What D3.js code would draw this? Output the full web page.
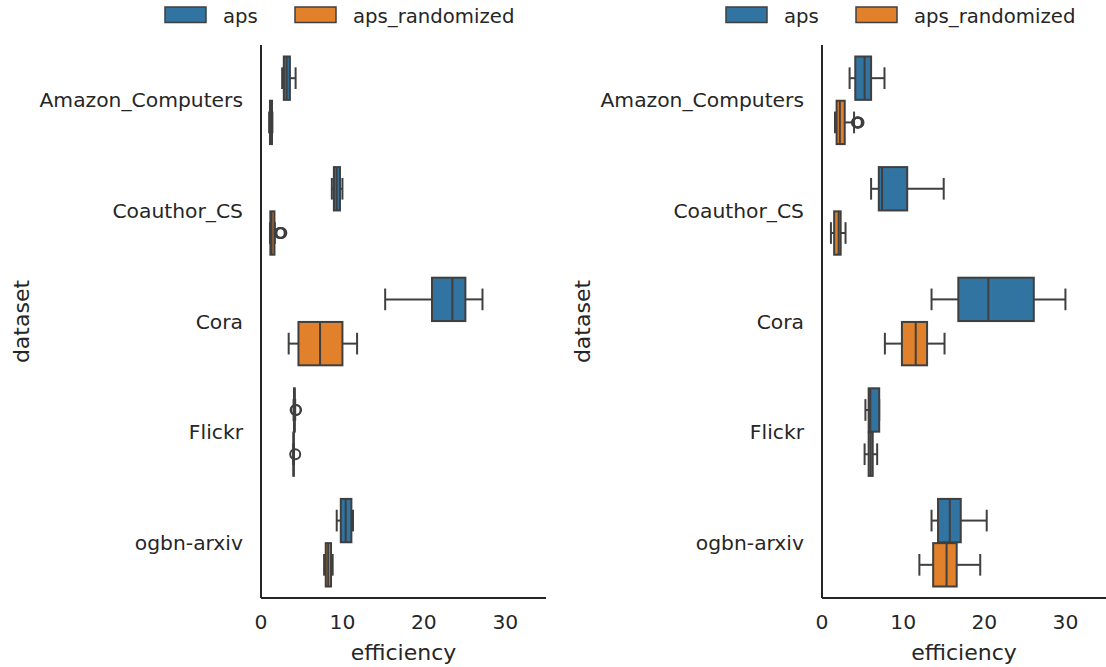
<!DOCTYPE html>
<html>
<head>
<meta charset="utf-8">
<script src="https://cdnjs.cloudflare.com/ajax/libs/d3/7.8.5/d3.min.js"></script>
<style>
body { margin: 0; background: #fff; }
text { font-family: "DejaVu Sans", sans-serif; fill: #262626; }
</style>
</head>
<body>
<svg width="1106" height="667"></svg>
<script>
var datasets = ["Amazon_Computers", "Coauthor_CS", "Cora", "Flickr", "ogbn-arxiv"];
var methods = ["aps", "aps_randomized"];
var colors = ["#3274a1", "#e1812c"];
var x_ticks = [0, 10, 20, 30];

// [lower whisker, q1, median, q3, upper whisker] per dataset
var left_aps = [
    [2.6, 2.8, 3.15, 3.55, 4.25],
    [8.7, 8.95, 9.3, 9.7, 10.0],
    [15.25, 21.0, 23.5, 25.1, 27.2],
    [4.0, 4.05, 4.1, 4.15, 4.2],
    [9.3, 9.8, 10.4, 11.1, 11.3]
];
var left_rand = [
    [1.0, 1.1, 1.2, 1.35, 1.4],
    [1.1, 1.15, 1.3, 1.65, 1.7],
    [3.4, 4.6, 7.25, 10.0, 11.8],
    [3.95, 3.98, 4.0, 4.03, 4.05],
    [7.75, 7.95, 8.25, 8.6, 8.8]
];
var left_aps_out = [[], [], [], [4.3, 4.25], []];
var left_rand_out = [[], [2.3, 2.4, 2.45, 2.5], [], [4.2], []];

var right_aps = [
    [3.4, 4.1, 5.25, 6.05, 7.7],
    [6.05, 7.0, 7.4, 10.5, 15.0],
    [13.5, 16.8, 20.5, 26.1, 30.0],
    [5.35, 5.75, 5.95, 7.05, 7.05],
    [13.5, 14.3, 15.75, 17.1, 20.3]
];
var right_rand = [
    [1.6, 1.8, 2.2, 2.8, 3.95],
    [1.1, 1.5, 2.05, 2.3, 2.9],
    [7.75, 9.85, 11.55, 12.95, 15.1],
    [5.25, 5.75, 6.0, 6.25, 6.8],
    [12.0, 13.7, 15.35, 16.6, 19.5]
];
var right_aps_out = [[], [], [], [], []];
var right_rand_out = [[4.3, 4.4, 4.45, 4.5], [], [], [], []];

var svg = d3.select("svg");
var top_y = 45, bottom_y = 598;

function draw_panel(left, right, aps, rand, aps_out, rand_out) {
    var g = svg.append("g");
    var x_scale = d3.scaleLinear().domain([0, 35]).range([left, right]);
    var y_scale = d3.scaleBand().domain(datasets).range([top_y, bottom_y]);
    var hue_scale = d3.scaleBand().domain(methods).range([-y_scale.bandwidth() * 0.4, y_scale.bandwidth() * 0.4]);
    var box_h = hue_scale.bandwidth() * 0.98;

    var series = [aps, rand];
    var outs = [aps_out, rand_out];

    methods.forEach(function(m, mi) {
        datasets.forEach(function(ds, di) {
            var s = series[mi][di];
            var cy = y_scale(ds) + y_scale.bandwidth() / 2 + hue_scale(m) + hue_scale.bandwidth() / 2;
            var bg = g.append("g").attr("stroke", "#3f3f3f").attr("stroke-width", 2);
            // whiskers
            bg.append("line").attr("x1", x_scale(s[0])).attr("x2", x_scale(s[1])).attr("y1", cy).attr("y2", cy);
            bg.append("line").attr("x1", x_scale(s[3])).attr("x2", x_scale(s[4])).attr("y1", cy).attr("y2", cy);
            // caps
            [s[0], s[4]].forEach(function(v) {
                bg.append("line").attr("x1", x_scale(v)).attr("x2", x_scale(v))
                    .attr("y1", cy - box_h / 4).attr("y2", cy + box_h / 4);
            });
            bg.append("rect")
                .attr("x", x_scale(s[1]))
                .attr("y", cy - box_h / 2)
                .attr("width", x_scale(s[3]) - x_scale(s[1]))
                .attr("height", box_h)
                .attr("fill", colors[mi]);
            bg.append("line").attr("x1", x_scale(s[2])).attr("x2", x_scale(s[2]))
                .attr("y1", cy - box_h / 2).attr("y2", cy + box_h / 2);
            outs[mi][di].forEach(function(v) {
                bg.append("circle").attr("cx", x_scale(v)).attr("cy", cy).attr("r", 5)
                    .attr("fill", "none");
            });
        });
    });

    // spines
    g.append("line").attr("x1", left).attr("x2", left).attr("y1", top_y).attr("y2", bottom_y)
        .attr("stroke", "#262626").attr("stroke-width", 2);
    g.append("line").attr("x1", left).attr("x2", right).attr("y1", bottom_y).attr("y2", bottom_y)
        .attr("stroke", "#262626").attr("stroke-width", 2);

    // tick labels
    g.selectAll(".xt").data(x_ticks).enter().append("text")
        .attr("x", function(d) { return x_scale(d); })
        .attr("y", 629)
        .attr("text-anchor", "middle")
        .style("font-size", "20.3px")
        .text(function(d) { return d; });
    g.selectAll(".yt").data(datasets).enter().append("text")
        .attr("x", left - 18)
        .attr("y", function(d) { return y_scale(d) + y_scale.bandwidth() / 2; })
        .attr("dy", "0.35em")
        .attr("text-anchor", "end")
        .style("font-size", "20.3px")
        .text(function(d) { return d; });

    g.append("text")
        .attr("x", (left + right) / 2)
        .attr("y", 660)
        .attr("text-anchor", "middle")
        .style("font-size", "22px")
        .text("efficiency");
    g.append("text")
        .attr("transform", "translate(" + (left - 232) + "," + ((top_y + bottom_y) / 2) + ") rotate(-90)")
        .attr("text-anchor", "middle")
        .style("font-size", "22px")
        .text("dataset");

    // legend
    var lg = g.append("g").attr("transform", "translate(" + (left - 96) + ",0)");
    var offsets = [0, 130];
    methods.forEach(function(m, mi) {
        lg.append("rect").attr("x", offsets[mi]).attr("y", 7).attr("width", 41).attr("height", 15.5)
            .attr("fill", colors[mi]).attr("stroke", "#3f3f3f").attr("stroke-width", 1.5);
        lg.append("text").attr("x", offsets[mi] + 58).attr("y", 22.5)
            .style("font-size", "19.7px").text(m);
    });
}

draw_panel(261, 546, left_aps, left_rand, left_aps_out, left_rand_out);
draw_panel(822, 1106, right_aps, right_rand, right_aps_out, right_rand_out);
</script>
</body>
</html>
